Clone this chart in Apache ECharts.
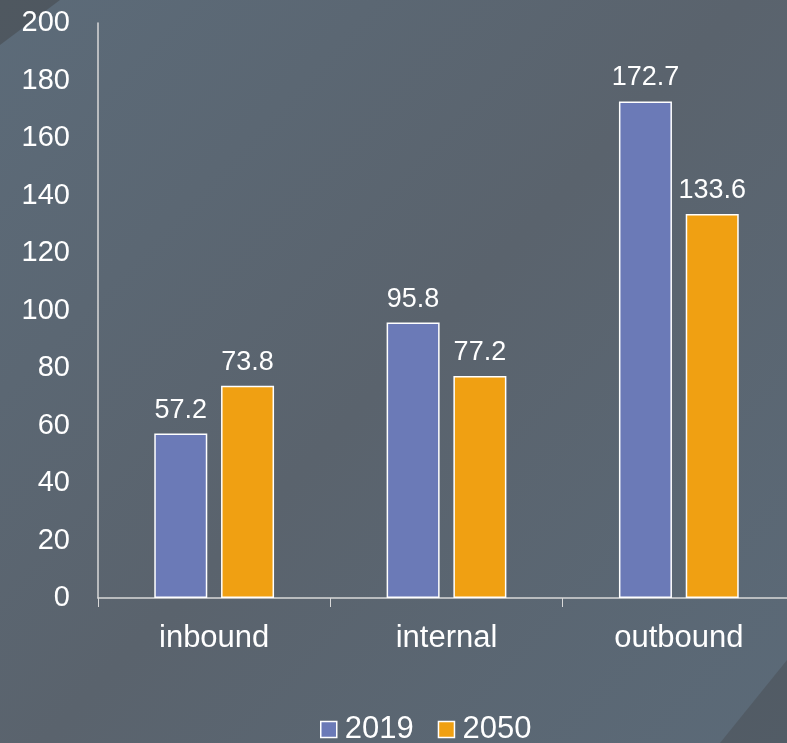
<!DOCTYPE html>
<html>
<head>
<meta charset="utf-8">
<script src="https://cdn.jsdelivr.net/npm/echarts@6/dist/echarts.min.js"></script>
<style>
    html, body { margin: 0; padding: 0; }
    #chart { width: 787px; height: 743px; }
</style>
</head>
<body>
<div id="chart"></div>
<script>
    const categories = ['inbound', 'internal', 'outbound']
    const values2019 = [57.2, 95.8, 172.7]
    const values2050 = [73.8, 77.2, 133.6]
    const seriesNames = ['2019', '2050']

    const chart = echarts.init(document.getElementById('chart'))

    const labelStyle = {
        show: true,
        position: 'top',
        color: '#fff',
        fontSize: 27,
        fontFamily: 'Liberation Sans, Arial, sans-serif',
        distance: 10
    }

    chart.setOption({
        animation: false,
        backgroundColor: {
            type: 'linear', x: 0, y: 0, x2: 1, y2: 1,
            colorStops: [
                { offset: 0, color: '#5c6b79' },
                { offset: 0.5, color: '#5a636d' },
                { offset: 1, color: '#5b6a78' }
            ]
        },
        textStyle: {
            fontFamily: 'Liberation Sans, Arial, sans-serif',
            color: '#fff'
        },
        graphic: [
            {   // dark corner, top left
                type: 'polygon',
                shape: { points: [[0, 0], [60, 0], [0, 45]] },
                style: { fill: 'rgba(60,60,60,0.4)' },
                z: -1
            },
            {   // dark corner, bottom right
                type: 'polygon',
                shape: { points: [[787, 660], [787, 743], [720, 743]] },
                style: { fill: 'rgba(70,75,80,0.45)' },
                z: -1
            }
        ],
        color: ['#6b7ab7', '#f0a012'],
        legend: {
            bottom: -7,
            left: 315,
            itemWidth: 16,
            itemHeight: 16,
            itemGap: 24,
            icon: 'rect',
            textStyle: { color: '#fff', fontSize: 31, padding: [0, 0, 0, 3] },
            itemStyle: { borderColor: '#fff', borderWidth: 1.5 },
            data: seriesNames
        },
        grid: {
            left: 98,
            top: 23,
            width: 697,
            height: 575,
            containLabel: false,
            outerBoundsMode: 'none'
        },
        xAxis: {
            type: 'category',
            data: categories,
            axisLine: { lineStyle: { color: '#d9d9d9', width: 1.5 } },
            axisTick: { show: true, length: 9, lineStyle: { color: '#d9d9d9' } },
            axisLabel: { color: '#fff', fontSize: 31, margin: 25 }
        },
        yAxis: {
            type: 'value',
            min: 0,
            max: 200,
            interval: 20,
            axisLine: { show: true, lineStyle: { color: '#d9d9d9', width: 1.5 } },
            axisTick: { show: false },
            splitLine: { show: false },
            axisLabel: { color: '#fff', fontSize: 29, margin: 28 }
        },
        series: [
            {
                name: seriesNames[0],
                type: 'bar',
                barWidth: 53,
                barGap: '26%',
                data: values2019,
                itemStyle: { borderColor: '#fff', borderWidth: 1.5 },
                label: labelStyle
            },
            {
                name: seriesNames[1],
                type: 'bar',
                barWidth: 53,
                barGap: '26%',
                data: values2050,
                itemStyle: { borderColor: '#fff', borderWidth: 1.5 },
                label: labelStyle
            }
        ]
    })
</script>
</body>
</html>
